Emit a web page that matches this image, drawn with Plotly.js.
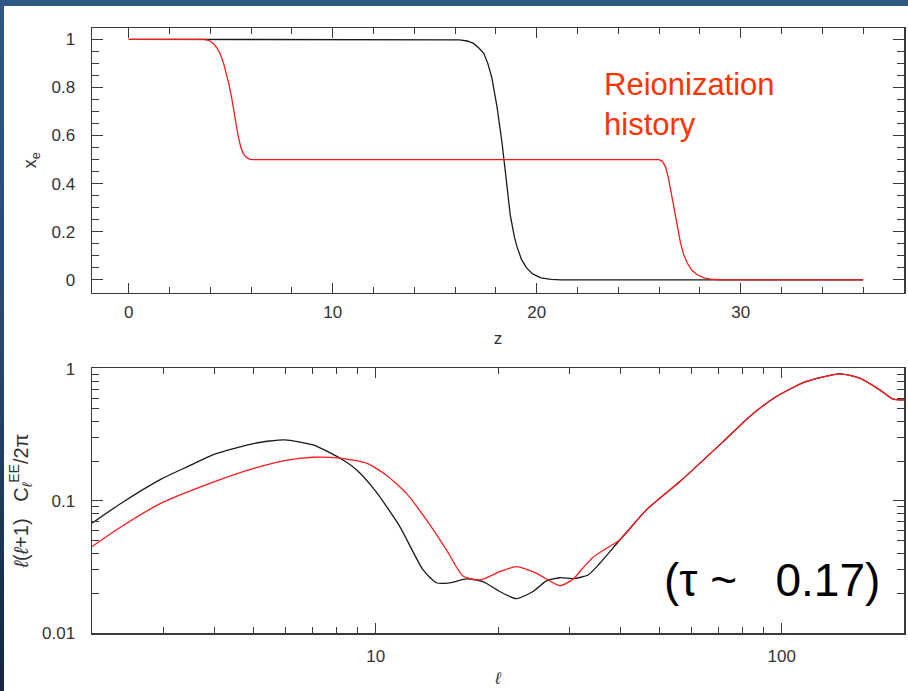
<!DOCTYPE html>
<html>
<head>
<meta charset="utf-8">
<script src="https://cdn.plot.ly/plotly-3.0.1.min.js"></script>
<style>
  html, body { margin: 0; padding: 0; }
  body { width: 908px; height: 691px; position: relative; overflow: hidden;
         background: linear-gradient(180deg, #2d5884 0%, #234872 50%, #16253f 100%); }
  #white { position: absolute; left: 4px; top: 6px; right: 0; bottom: 0; background: #ffffff; }
  #chart { position: absolute; left: 0; top: 0; width: 908px; height: 691px; }
</style>
</head>
<body>
<div id="white"></div>
<div id="chart"></div>
<script>
// ---- Top panel: ionization fraction x_e versus redshift z ----
const zBlack  = [0, 16.2, 16.6, 16.9, 17.15, 17.4, 17.6, 17.8, 18.05, 18.3, 18.5, 18.7, 18.9, 19.03, 19.25, 19.5, 19.8, 20.2, 20.7, 21.2, 36];
const xeBlack = [1, 0.998, 0.993, 0.983, 0.965, 0.942, 0.9, 0.84, 0.72, 0.568, 0.42, 0.27, 0.18, 0.138, 0.085, 0.05, 0.025, 0.008, 0.002, 0, 0];

const zRed  = [0, 3.7, 3.95, 4.14, 4.3, 4.47, 4.65, 4.8, 4.92, 5.04, 5.2, 5.37, 5.5, 5.61, 5.75, 5.94, 6.2,
               25.99, 26.15, 26.31, 26.45, 26.56, 26.8, 27.05, 27.2, 27.38, 27.6, 27.87, 28.2, 28.52, 29.0, 29.3, 36];
const xeRed = [1, 1, 0.995, 0.983, 0.967, 0.942, 0.9, 0.855, 0.81, 0.76, 0.678, 0.595, 0.55, 0.526, 0.51, 0.501, 0.5,
               0.5, 0.494, 0.47, 0.425, 0.374, 0.263, 0.152, 0.105, 0.069, 0.04, 0.021, 0.008, 0.003, 0.0005, 0, 0];

// ---- Bottom panel: EE polarization spectrum l(l+1)C_l/2pi versus multipole l ----
const ellBlack = [2.0, 2.36, 2.96, 3.44, 4.01, 5.03, 5.96, 7.01, 8.15, 8.96, 10.0, 11.46, 13.08, 14.11, 15.22, 16.73, 18.38, 20.2, 22.2, 24.4, 26.33, 28.39, 30.62, 33.34, 35.63, 39.9, 46.4, 56.1, 71.7, 83.4, 97.0, 115.0, 139.0, 155.6, 174.3, 187.9, 200];
const clBlack  = [0.0678, 0.096, 0.146, 0.182, 0.226, 0.273, 0.290, 0.265, 0.211, 0.172, 0.118, 0.0639, 0.030, 0.0240, 0.0240, 0.0257, 0.0245, 0.0206, 0.0182, 0.0206, 0.0248, 0.0262, 0.0258, 0.0275, 0.0337, 0.0506, 0.0855, 0.140, 0.281, 0.436, 0.617, 0.802, 0.916, 0.850, 0.693, 0.589, 0.582];

const ellRed = [2.0, 2.36, 2.96, 4.01, 5.03, 5.96, 7.01, 8.15, 9.49, 10.6, 11.9, 13.33, 14.93, 16.4, 18.04, 20.2, 22.2, 24.9, 28.4, 30.6, 32.6, 34.3, 37.0, 39.9, 46.4, 56.1, 71.7, 83.4, 97.0, 115.0, 139.0, 155.6, 174.3, 187.9, 200];
const clRed  = [0.0451, 0.0638, 0.0961, 0.140, 0.177, 0.202, 0.214, 0.211, 0.193, 0.157, 0.114, 0.0718, 0.0426, 0.0270, 0.0252, 0.0291, 0.0318, 0.0283, 0.0228, 0.0255, 0.0318, 0.0375, 0.0438, 0.0506, 0.0855, 0.140, 0.281, 0.436, 0.617, 0.802, 0.916, 0.850, 0.693, 0.589, 0.582];

// ---- Texts ----
const topXTitle = 'z';
const topYTitle = 'x<sub>e</sub>';
const botXTitle = '<i>ℓ</i>';
const botYTitle = '<i>ℓ</i>(<i>ℓ</i>+1)\u00a0\u00a0\u00a0C<sub><i>ℓ</i></sub><sup>EE</sup>/2π';
const noteTop = 'Reionization<br>history';
const noteBottom = '(τ\u00a0~\u00a0\u00a0\u00a00.17)';

const BLACK = '#1a1a1a';
const RED = '#ff1a1a';
const AX = '#3a3a3a';
const FONT = 'Liberation Sans, Arial, sans-serif';

const traces = [
  {x: zBlack, y: xeBlack, xaxis: 'x', yaxis: 'y', type: 'scatter', mode: 'lines',
   line: {color: BLACK, width: 1.3, shape: 'linear'}, hoverinfo: 'skip'},
  {x: zRed, y: xeRed, xaxis: 'x', yaxis: 'y', type: 'scatter', mode: 'lines',
   line: {color: RED, width: 1.3, shape: 'linear'}, hoverinfo: 'skip'},
  {x: ellBlack, y: clBlack, xaxis: 'x2', yaxis: 'y2', type: 'scatter', mode: 'lines',
   line: {color: BLACK, width: 1.3, shape: 'spline', smoothing: 0.6}, hoverinfo: 'skip'},
  {x: ellRed, y: clRed, xaxis: 'x2', yaxis: 'y2', type: 'scatter', mode: 'lines',
   line: {color: RED, width: 1.3, shape: 'spline', smoothing: 0.6}, hoverinfo: 'skip'}
];

function baseAxis(extra) {
  return Object.assign({
    showline: true, linecolor: AX, linewidth: 1.5, mirror: 'ticks',
    ticks: 'inside', tickcolor: AX, tickwidth: 1,
    showgrid: false, zeroline: false,
    tickfont: {family: FONT, size: 17, color: '#333'}
  }, extra);
}

const layout = {
  width: 908, height: 691,
  margin: {l: 92, r: 4, t: 28, b: 57.7, pad: 0},
  paper_bgcolor: 'rgba(0,0,0,0)',
  plot_bgcolor: 'rgba(0,0,0,0)',
  showlegend: false,
  font: {family: FONT, size: 17, color: '#333'},
  xaxis: baseAxis({
    domain: [0, 1], anchor: 'y', range: [-1.8, 38], tick0: 0, dtick: 10, ticklen: 10,
    ticklabelstandoff: 3,
    minor: {dtick: 2, ticks: 'inside', ticklen: 6, tickcolor: AX, tickwidth: 1, showgrid: false},
    title: {text: topXTitle, standoff: 11, font: {size: 17, color: '#333'}}
  }),
  yaxis: baseAxis({
    domain: [0.5626, 1], anchor: 'x', range: [-0.053, 1.047], tick0: 0, dtick: 0.2, ticklen: 11,
    ticklabelstandoff: 12,
    minor: {dtick: 0.05, ticks: 'inside', ticklen: 7, tickcolor: AX, tickwidth: 1, showgrid: false},
    title: {text: topYTitle, standoff: 10, font: {size: 18, color: '#333'}}
  }),
  xaxis2: baseAxis({
    domain: [0, 1], anchor: 'y2', type: 'log', range: [Math.log10(2), Math.log10(200)],
    tick0: 0, dtick: 1, ticklen: 10, ticklabelstandoff: 7,
    minor: {dtick: 'D1', ticks: 'inside', ticklen: 6, tickcolor: AX, tickwidth: 1, showgrid: false},
    title: {text: botXTitle, standoff: 7, font: {size: 17, color: '#333'}}
  }),
  yaxis2: baseAxis({
    domain: [0, 0.4378], anchor: 'x2', type: 'log', range: [-2, 0.005],
    tick0: 0, dtick: 1, ticklen: 11, ticklabelstandoff: 12,
    minor: {dtick: 'D1', ticks: 'inside', ticklen: 7, tickcolor: AX, tickwidth: 1, showgrid: false},
    title: {text: botYTitle, standoff: 8, font: {size: 20, color: '#333'}}
  }),
  annotations: [
    {text: noteTop, xref: 'paper', yref: 'paper', x: 0.628, y: 0.873,
     xanchor: 'left', yanchor: 'middle', align: 'left', showarrow: false,
     font: {family: FONT, size: 31, color: '#ff3300'}},
    {text: noteBottom, xref: 'paper', yref: 'paper', x: 0.838, y: 0.088,
     xanchor: 'center', yanchor: 'middle', showarrow: false,
     font: {family: FONT, size: 46, color: '#000000'}}
  ]
};

Plotly.newPlot('chart', traces, layout, {staticPlot: true, displayModeBar: false});
</script>
</body>
</html>
